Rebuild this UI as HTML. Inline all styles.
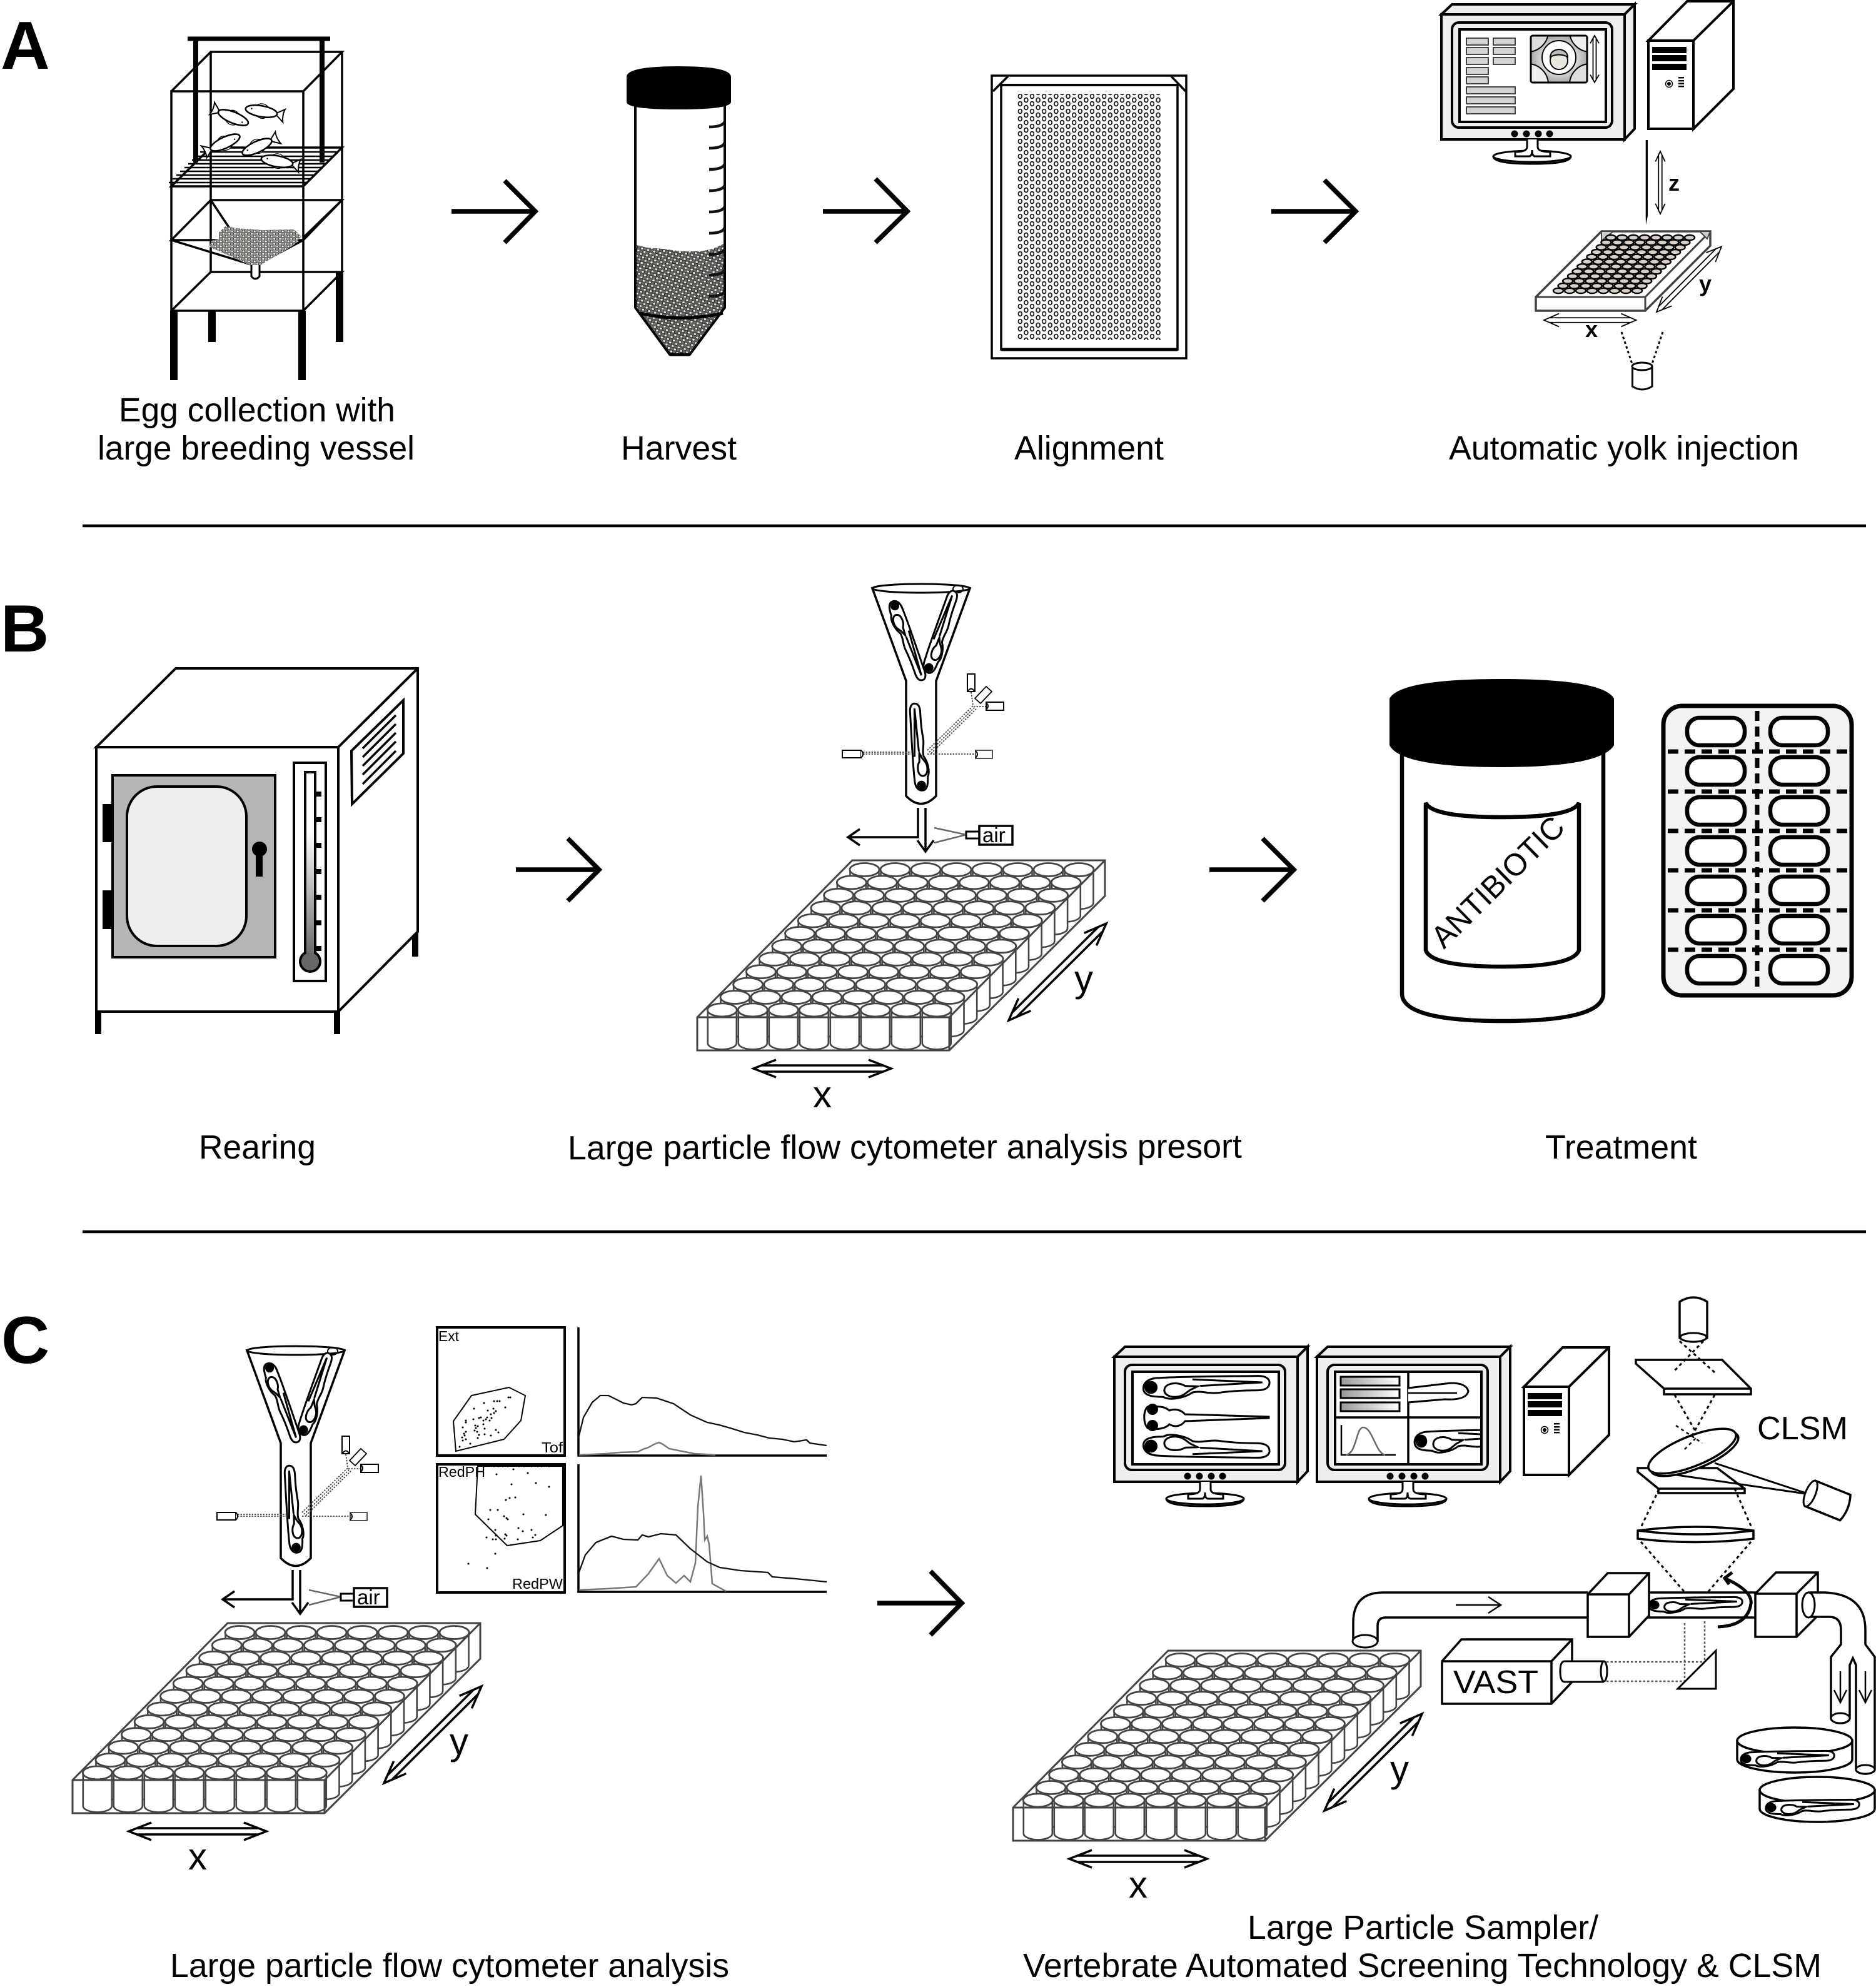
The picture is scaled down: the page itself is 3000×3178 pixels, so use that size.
<!DOCTYPE html>
<html><head><meta charset="utf-8"><title>Diagram</title>
<style>html,body{margin:0;padding:0;background:#fff}svg{display:block}text{font-family:"Liberation Sans",Arial,sans-serif;fill:#000}</style>
</head><body>
<svg xmlns="http://www.w3.org/2000/svg" width="3000" height="3178" viewBox="0 0 3000 3178">
<defs>
<pattern id="eggs" width="10" height="9" patternUnits="userSpaceOnUse" patternTransform="rotate(14)">
<rect width="10" height="9" fill="#6a6a6a"/>
<ellipse cx="2.5" cy="2.2" rx="2.5" ry="2.2" fill="#e9e2da" stroke="#111" stroke-width="1"/>
<ellipse cx="7.5" cy="6.7" rx="2.5" ry="2.2" fill="#e9e2da" stroke="#111" stroke-width="1"/>
</pattern>
<pattern id="eggs2" width="9" height="8" patternUnits="userSpaceOnUse">
<rect width="9" height="8" fill="#999"/>
<circle cx="2.2" cy="2" r="2.1" fill="#f2ebe4" stroke="#222" stroke-width=".9"/>
<circle cx="6.7" cy="6" r="2.1" fill="#f2ebe4" stroke="#222" stroke-width=".9"/>
</pattern>
<pattern id="align" x="1627.5" y="150" width="19.2" height="12" patternUnits="userSpaceOnUse">
<ellipse cx="3.8" cy="4" rx="2.9" ry="3.5" fill="#fff" stroke="#111" stroke-width="1.7"/>
<ellipse cx="13.4" cy="10" rx="2.9" ry="3.5" fill="#fff" stroke="#111" stroke-width="1.7"/>
<ellipse cx="13.4" cy="-2" rx="2.9" ry="3.5" fill="#fff" stroke="#111" stroke-width="1.7"/>
</pattern>
<linearGradient id="th" x1="0" y1="0" x2="0" y2="1"><stop offset=".3" stop-color="#fff"/><stop offset="1" stop-color="#555"/></linearGradient>
<linearGradient id="bar" x1="0" y1="0" x2="1" y2="0"><stop offset="0" stop-color="#999"/><stop offset="1" stop-color="#fff"/></linearGradient>
<radialGradient id="imgb"><stop offset=".3" stop-color="#fff"/><stop offset="1" stop-color="#aaa"/></radialGradient>
<clipPath id="imgc"><rect x="2448" y="57" width="90" height="75" rx="3"/></clipPath>
<clipPath id="eggc1"><path d="M350,372 L360,362 L380,365 L420,368 L470,367 L482,378 L470,392 L415,425 L402,425 L335,395 L338,385 L350,382Z"/></clipPath>
<clipPath id="eggc2"><path d="M1018,392 L1035,396 L1060,398 L1090,402 L1120,402 L1140,398 L1157,390 V492 L1103,565 H1071 L1018,492Z"/></clipPath>
<clipPath id="m2c"><rect x="2135" y="2194" width="234" height="148"/></clipPath>

<g id="fish" fill="#fff" stroke="#000" transform="scale(.8)">
<path d="M-12,-10 Q0,-20 12,-11 M-8,10 Q2,18 12,10" stroke-width="1.5"/>
<path d="M28,0 L46,-12 Q42,0 46,14Z" stroke-width="2.5"/>
<ellipse cx="0" cy="0" rx="32" ry="11" stroke-width="3.2"/>
<circle cx="-20" cy="-2" r="1.5" fill="#000" stroke="none"/>
</g>

<g id="larva" fill="#fff" stroke="#000" stroke-width="3">
<path vector-effect="non-scaling-stroke" d="M3,2 C3,-11 15,-19 36,-19 C80,-22 150,-22 230,-23 C246,-23 252,-16 252,-10 C252,0 245,6 225,6 C190,6 170,8 150,11 C130,13 118,6 100,10 C85,21 55,27 42,19 C25,19 3,18 3,2Z"/>
<circle cx="18" cy="0" r="13" fill="#000" stroke="none"/>
<path vector-effect="non-scaling-stroke" d="M45,2 C50,-11 75,-10 85,-3 C95,-2 100,-3 110,-2 L100,3 C90,6 85,19 65,19 C50,19 42,11 45,2Z"/>
<path vector-effect="non-scaling-stroke" fill="none" d="M100,-16 L238,-10 L115,-3"/>
</g>

<path id="darr" fill="none" stroke="#000" stroke-width="3.5" vector-effect="non-scaling-stroke" d="M36,-14 L0,0 L36,14 M184,-14 L220,0 L184,14 M14,-5 H206 M14,5 H206"/>
<path id="darrs" fill="none" stroke="#000" stroke-width="1.8" vector-effect="non-scaling-stroke" d="M36,-14 L0,0 L36,14 M184,-14 L220,0 L184,14 M14,-5 H206 M14,5 H206"/>

<g id="well">
<path d="M-23,0 V53 A23,10 0 0 0 23,53 V0Z" fill="#fff" stroke="#444" stroke-width="2.6"/>
<ellipse cx="0" cy="0" rx="23.5" ry="10.5" fill="#fff" stroke="#444" stroke-width="2.8"/>
</g>
<g id="wr"><use href="#well" x="0"/><use href="#well" x="49"/><use href="#well" x="98"/><use href="#well" x="147"/><use href="#well" x="196"/><use href="#well" x="245"/><use href="#well" x="294"/><use href="#well" x="343"/></g>
<g id="plate">
<use href="#wr" x="1382.5" y="1391"/><use href="#wr" x="1361.8" y="1411.4"/><use href="#wr" x="1341.1" y="1431.8"/><use href="#wr" x="1320.4" y="1452.2"/><use href="#wr" x="1299.7" y="1472.6"/><use href="#wr" x="1279" y="1493"/><use href="#wr" x="1258.3" y="1513.4"/><use href="#wr" x="1237.6" y="1533.8"/><use href="#wr" x="1216.9" y="1554.2"/><use href="#wr" x="1196.2" y="1574.6"/><use href="#wr" x="1175.5" y="1595"/><use href="#wr" x="1154.8" y="1615.4"/>
<path d="M1115,1627 L1363,1376 H1767 V1433 L1518,1680 H1115Z M1115,1627 H1518 V1680 M1518,1627 L1767,1376" fill="none" stroke="#444" stroke-width="3"/>
<use href="#darr" transform="translate(1205,1709)"/>
<use href="#darr" transform="translate(1613,1632) rotate(-44.8)"/>
</g>

<g id="fn">
<path d="M1395,941 L1449,1089 V1273 Q1473,1298 1497,1273 V1089 L1551,941Z" fill="#fff" stroke="#000" stroke-width="3.5"/>
<ellipse cx="1473" cy="941" rx="78" ry="7" fill="#fff" stroke="#000" stroke-width="3"/>
<use href="#larva" transform="translate(1428,960) rotate(71.7) scale(.54)"/>
<use href="#larva" transform="translate(1482,1077) rotate(-69.5) scale(.55)"/>
<ellipse cx="1532" cy="942" rx="8" ry="6" fill="none" stroke="#000" stroke-width="2"/>
<use href="#larva" transform="translate(1474,1266) rotate(-92.6) scale(.56)"/>
<path d="M1380,1203 H1457 M1380,1206 H1457 M1483,1206 H1560 M1483,1200 L1557,1128 M1486,1203 L1559,1131 M1489,1205 L1561,1134 M1553,1107 L1556,1128 M1557,1130 H1577" fill="none" stroke="#444" stroke-width="1.8" stroke-dasharray="2.5 2"/>
<g fill="#fff" stroke="#000" stroke-width="2">
<rect x="1347" y="1200" width="30" height="12"/><path d="M1377,1200 Q1383,1206 1377,1212" />
<rect x="1560" y="1200" width="27" height="13" stroke="#555"/><path d="M1560,1201 Q1566,1206 1560,1212" fill="none"/>
<rect x="1547" y="1078" width="12" height="28"/><path d="M1548,1105 Q1553,1098 1558,1105" fill="none"/>
<rect x="1577" y="1123" width="28" height="13"/><path d="M1577,1124 Q1583,1129 1577,1135" fill="none"/>
<path d="M1559,1117 L1577,1098 L1586,1106 L1568,1125Z" stroke-width="1.8"/>
</g>
<path d="M1468,1292 V1339 H1356 M1375,1326 L1356,1339 L1375,1352 M1480,1292 V1362 M1467,1344 L1480,1362 L1493,1344" fill="none" stroke="#000" stroke-width="3.5"/>
<path d="M1494,1324 L1545,1335 L1494,1348" fill="none" stroke="#666" stroke-width="2.5"/>
<rect x="1545" y="1330" width="21" height="11" fill="#fff" stroke="#000" stroke-width="3"/>
<rect x="1566" y="1321" width="53" height="30" fill="#fff" stroke="#000" stroke-width="3.5"/>
</g>

<g id="mon" stroke="#000" stroke-width="4" fill="#eee">
<path d="M2305,23 L2322,7 H2614 L2598,23Z"/>
<path d="M2598,23 L2614,7 V206 L2598,223Z"/>
<rect x="2305" y="23" width="293" height="200"/>
<rect x="2322" y="36" width="256" height="168" rx="11"/>
<rect x="2334" y="47" width="234" height="148" fill="#fff"/>
<g fill="#000" stroke="none"><circle cx="2422" cy="214" r="5.5"/><circle cx="2441" cy="214" r="5.5"/><circle cx="2460" cy="214" r="5.5"/><circle cx="2478" cy="214" r="5.5"/></g>
<path d="M2388,250 Q2388,262 2450,262 Q2512,262 2512,250" fill="#fff" stroke-width="3"/>
<ellipse cx="2450" cy="250" rx="62" ry="9" fill="#fff" stroke-width="3"/>
<path d="M2442,223 V235 Q2442,243 2423,243 V250 H2445 Q2450,250 2450,240 Q2450,250 2455,250 H2479 V243 Q2459,243 2459,235 V223" fill="#fff" stroke-width="3"/>
</g>

<g id="tower" stroke="#000" stroke-width="4" fill="#fff">
<path d="M2636,65 L2698,2 H2772 V142 L2708,206 V65Z"/>
<path d="M2708,65 L2772,2"/>
<rect x="2636" y="65" width="72" height="141"/>
<g fill="#000" stroke="none"><rect x="2642" y="75" width="55" height="10"/><rect x="2642" y="88" width="55" height="10"/><rect x="2642" y="102" width="55" height="10"/><circle cx="2669" cy="134" r="3"/><rect x="2684" y="123" width="9" height="2.4"/><rect x="2684" y="128" width="9" height="2.4"/><rect x="2684" y="132.500" width="9" height="2.4"/><rect x="2684" y="137" width="9" height="2.4"/></g>
<circle cx="2669" cy="134" r="5.500" fill="none" stroke-width="1.5"/>
</g>

<g id="p8"><ellipse cx="0" cy="0" rx="8" ry="4.2"/><ellipse cx="18" cy="0" rx="8" ry="4.2"/><ellipse cx="36" cy="0" rx="8" ry="4.2"/><ellipse cx="54" cy="0" rx="8" ry="4.2"/><ellipse cx="72" cy="0" rx="8" ry="4.2"/><ellipse cx="90" cy="0" rx="8" ry="4.2"/><ellipse cx="108" cy="0" rx="8" ry="4.2"/><ellipse cx="126" cy="0" rx="8" ry="4.2"/></g>

<g id="dish" stroke="#000" stroke-width="3.500" fill="#fff">
<path d="M-92,0 V30 A92,21 0 0 0 92,30 V0Z"/>
<ellipse cx="0" cy="0" rx="92" ry="21"/>
</g>
</defs>

<!-- Panel letters -->
<text x="1" y="110" font-size="109" font-weight="700">A</text>
<text x="1" y="1042" font-size="107" font-weight="700">B</text>
<text x="2" y="2180" font-size="107" font-weight="700">C</text>

<!-- rules -->
<path d="M132,841 H2984 M132,1970 H2984" stroke="#000" stroke-width="4.500"/>

<!-- arrows -->
<g fill="none" stroke="#000" stroke-width="7.500">
<path d="M722,338 H855 M807,289 L856,338 L807,388"/>
<path d="M1316,338 H1450 M1400,286 L1451,338 L1400,388"/>
<path d="M2033,338 H2167 M2118,288 L2168,338 L2118,388"/>
<path d="M825,1391 H958 M908,1341 L958,1391 L908,1441"/>
<path d="M1934,1391 H2068 M2019,1341 L2069,1391 L2019,1441"/>
<path d="M1403,2564 H1537 M1488,2513 L1538,2564 L1488,2615"/>
</g>

<!-- Breeding vessel -->
<g fill="none" stroke="#000">
<path d="M300,62 H528" stroke-width="7"/>
<path d="M313,62 V260 M515,62 V260" stroke-width="8"/>
<path d="M274,146 L337,83 H547 L485,146 H274 V497 H485 V146 M547,83 V435 M337,83 V435 H547 L485,497 M337,435 L274,497" stroke-width="3.500"/>
<path d="M274,298 L337,236 H547 L485,298Z M274,298 H485" stroke-width="3.500"/>
<path d="M270,292 H490 M276,286 H497 M282,280 H503 M288,274 H509 M295,268 H515 M301,262 H522 M307,256 H528 M313,250 H534 M320,243 H540" stroke-width="2.600"/>
<path d="M274,384 L337,320 H547 L485,384Z M274,384 L408,425 L485,384 M337,320 L367,365 M547,320 L485,380" stroke-width="3.500"/>
</g>
<rect x="330" y="360" width="156" height="70" fill="url(#eggs2)" clip-path="url(#eggc1)"/>
<path d="M402,424 V442 Q408,450 415,442 V424" fill="#fff" stroke="#000" stroke-width="3"/>
<g fill="#000"><rect x="272" y="497" width="12" height="111"/><rect x="477" y="497" width="12" height="111"/><rect x="333" y="497" width="12" height="50"/><rect x="537" y="435" width="12" height="112"/></g>
<use href="#fish" transform="translate(418,178) rotate(10)"/>
<use href="#fish" transform="translate(373,188) rotate(202)"/>
<use href="#fish" transform="translate(360,228) rotate(155)"/>
<use href="#fish" transform="translate(411,235) rotate(-25)"/>
<use href="#fish" transform="translate(443,258) rotate(10)"/>

<!-- Tube -->
<rect x="1018" y="388" width="140" height="180" fill="url(#eggs)" clip-path="url(#eggc2)"/>
<path d="M1016,165 V492 L1071,567 H1103 L1159,492 V165" fill="none" stroke="#000" stroke-width="4"/>
<path d="M1071,567 H1103" stroke="#000" stroke-width="5"/>
<path d="M1023,501 Q1090,516 1156,501" fill="none" stroke="#000" stroke-width="5"/>
<path d="M1002,123 Q1002,106 1085,106 Q1169,106 1169,123 V163 Q1169,175 1085,175 Q1002,175 1002,163Z" fill="#000"/>
<path d="M1159,194 Q1156,203 1134,203 M1159,228 Q1156,237 1134,237 M1159,262 Q1156,271 1134,271 M1159,296 Q1156,305 1134,305 M1159,330 Q1156,339 1134,339 M1159,364 Q1156,373 1134,373 M1159,398 Q1156,407 1134,407 M1159,431 Q1156,440 1134,440 M1159,465 Q1156,474 1134,474" fill="none" stroke="#111" stroke-width="4.500"/>

<!-- Alignment plate -->
<path d="M1586,121 H1897 V573 H1586Z M1601,136 H1883 V559 H1601Z M1612,122 L1588,146 M1873,122 L1896,146" fill="#fff" stroke="#000" stroke-width="3.500"/>
<path d="M1601,136 H1883" stroke="#000" stroke-width="4"/>
<path d="M1601,559 H1883" stroke="#000" stroke-width="5"/>
<rect x="1627.500" y="150" width="230" height="394" fill="url(#align)"/>

<!-- Injection station -->
<use href="#mon"/>
<use href="#tower"/>
<g fill="#d4d4d4" stroke="#333" stroke-width="1.800">
<rect x="2345" y="61" width="35" height="11"/><rect x="2345" y="76" width="35" height="11"/><rect x="2345" y="92" width="35" height="11"/><rect x="2345" y="108" width="35" height="11"/><rect x="2345" y="123" width="35" height="11"/>
<rect x="2388" y="61" width="35" height="11"/><rect x="2388" y="76" width="35" height="11"/><rect x="2388" y="92" width="35" height="11"/>
<rect x="2345" y="139" width="78" height="11"/><rect x="2345" y="155" width="78" height="11"/><rect x="2345" y="171" width="78" height="11"/>
</g>
<rect x="2448" y="57" width="90" height="75" rx="3" fill="url(#imgb)"/>
<g clip-path="url(#imgc)" fill="#fff" stroke="#000" stroke-width="2">
<circle cx="2443" cy="50" r="33" fill="#ddd"/><circle cx="2543" cy="50" r="33" fill="#eee"/><circle cx="2443" cy="135" r="33" fill="#eee"/><circle cx="2543" cy="135" r="33" fill="#ddd"/>
<circle cx="2493" cy="92" r="27"/>
</g>
<rect x="2448" y="57" width="90" height="75" rx="3" fill="none" stroke="#000" stroke-width="3"/>
<circle cx="2493" cy="97" r="14" fill="#ece6e0" stroke="#000" stroke-width="2"/>
<path d="M2479,91 Q2480,80 2493,79 Q2506,80 2507,91 Q2493,84 2479,91Z" fill="#bbb" stroke="#000" stroke-width="2"/>
<use href="#darrs" transform="translate(2550,57) rotate(90) scale(.34,.5)"/>
<path d="M2631.700,224 V345 L2632,360 L2635,345 V224Z" fill="#000"/>
<use href="#darrs" transform="translate(2655,242) rotate(90) scale(.455,.55)"/>
<text x="2668" y="305" font-size="36" font-weight="700">z</text>
<path d="M2456,475 L2561,370 H2735 V393 L2631,497 H2456Z" fill="#fff" stroke="#444" stroke-width="3.500"/>
<path d="M2456,475 H2631 V497 M2631,475 L2735,370" fill="none" stroke="#444" stroke-width="3"/>
<path d="M2561,370 L2580,370 L2561,385Z M2735,370 L2718,370 L2730,382Z" fill="#ccc" stroke="#444" stroke-width="2"/>
<g fill="#d8d0c8" stroke="#000" stroke-width="2.400">
<use href="#p8" x="2576" y="380"/><use href="#p8" x="2568.400" y="387.700"/><use href="#p8" x="2560.700" y="395.500"/><use href="#p8" x="2553.100" y="403.200"/><use href="#p8" x="2545.400" y="410.900"/><use href="#p8" x="2537.800" y="418.600"/><use href="#p8" x="2530.200" y="426.400"/><use href="#p8" x="2522.500" y="434.100"/><use href="#p8" x="2514.900" y="441.800"/><use href="#p8" x="2507.200" y="449.500"/><use href="#p8" x="2499.600" y="457.300"/><use href="#p8" x="2492" y="465"/>
</g>
<use href="#darrs" transform="translate(2469,512) scale(.67,.75)"/>
<use href="#darrs" transform="translate(2649,499) rotate(-45.200) scale(.67,.75)"/>
<text x="2535" y="539" font-size="36" font-weight="700">x</text>
<text x="2717" y="466" font-size="36" font-weight="700">y</text>
<path d="M2593,531 L2610,582 M2659,531 L2642,582" fill="none" stroke="#000" stroke-width="3" stroke-dasharray="4 4"/>
<path d="M2610.500,586 V618 Q2626,628 2642,618 V586" fill="#fff" stroke="#000" stroke-width="3"/>
<ellipse cx="2626" cy="586" rx="16" ry="6" fill="#fff" stroke="#000" stroke-width="3"/>

<!-- Oven -->
<g fill="#000"><rect x="152" y="1618" width="10" height="36"/><rect x="534" y="1618" width="10" height="36"/><rect x="659" y="1490" width="10" height="40"/></g>
<g stroke="#000" stroke-width="4" fill="#fff">
<path d="M154,1195 L281,1069 H668 V1490 L541,1618 V1195Z"/>
<rect x="154" y="1195" width="387" height="423"/>
<path d="M541,1195 L668,1069"/>
<path d="M562,1201 L645,1120 V1205 L563,1286Z"/>
<path d="M580,1197 L633,1144 M580,1211 L633,1158 M580,1225 L633,1172 M580,1239 L633,1186 M580,1254 L633,1201" stroke-width="3.500"/>
<rect x="180" y="1240" width="260" height="291" fill="#b5b5b5"/>
<rect x="203" y="1258" width="191" height="255" rx="48" fill="#eee"/>
<rect x="470" y="1220" width="51" height="349"/>
</g>
<g fill="#000"><rect x="164" y="1286" width="16" height="61"/><rect x="164" y="1424" width="16" height="62"/><circle cx="415" cy="1358" r="12"/><rect x="409" y="1358" width="11" height="44"/>
<rect x="504" y="1266" width="10" height="8"/><rect x="504" y="1307" width="10" height="8"/><rect x="504" y="1348" width="10" height="8"/><rect x="504" y="1390" width="10" height="8"/><rect x="504" y="1431" width="10" height="8"/><rect x="504" y="1472" width="10" height="8"/><rect x="504" y="1513" width="10" height="8"/></g>
<path d="M488,1235 H504 V1524 A16,16 0 1 1 488,1524Z" fill="url(#th)" stroke="#000" stroke-width="4"/>
<circle cx="496" cy="1538" r="14" fill="#666"/>

<!-- Flow + plate B -->
<use href="#fn"/>
<text x="1571" y="1347" font-size="33">air</text>
<use href="#plate"/>
<text x="1300" y="1771" font-size="60">x</text>
<text x="1718" y="1586" font-size="60">y</text>

<!-- Jar -->
<path d="M2242,1190 V1589 Q2242,1633 2403,1633 Q2564,1633 2564,1589 V1190" fill="#fff" stroke="#000" stroke-width="6.500"/>
<path d="M2222,1117 Q2240,1086 2400,1086 Q2563,1086 2581,1117 V1192 Q2560,1227 2400,1227 Q2240,1227 2222,1192Z" fill="#000"/>
<path d="M2280,1284 Q2290,1307 2402,1307 Q2515,1307 2525,1284 V1520 Q2515,1546 2402,1546 Q2290,1546 2280,1520Z" fill="#fff" stroke="#000" stroke-width="6.500"/>
<text x="0" y="0" font-size="50" transform="translate(2309,1519) rotate(-44.500)" textLength="275" lengthAdjust="spacingAndGlyphs">ANTIBIOTIC</text>

<!-- Blister -->
<rect x="2660" y="1129" width="301" height="463" rx="30" fill="#f3f3f3" stroke="#000" stroke-width="7"/>
<g fill="#fff" stroke="#000" stroke-width="6.500">
<rect x="2698" y="1148" width="92" height="44" rx="20"/><rect x="2831" y="1148" width="92" height="44" rx="20"/>
<rect x="2698" y="1211" width="92" height="44" rx="20"/><rect x="2831" y="1211" width="92" height="44" rx="20"/>
<rect x="2698" y="1275" width="92" height="44" rx="20"/><rect x="2831" y="1275" width="92" height="44" rx="20"/>
<rect x="2698" y="1339" width="92" height="44" rx="20"/><rect x="2831" y="1339" width="92" height="44" rx="20"/>
<rect x="2698" y="1402" width="92" height="44" rx="20"/><rect x="2831" y="1402" width="92" height="44" rx="20"/>
<rect x="2698" y="1465" width="92" height="44" rx="20"/><rect x="2831" y="1465" width="92" height="44" rx="20"/>
<rect x="2698" y="1529" width="92" height="44" rx="20"/><rect x="2831" y="1529" width="92" height="44" rx="20"/>
</g>
<path d="M2667,1202 H2954 M2667,1266 H2954 M2667,1329 H2954 M2667,1392 H2954 M2667,1456 H2954 M2667,1519 H2954" stroke="#000" stroke-width="7" stroke-dasharray="17 10" fill="none"/>
<path d="M2810,1137 V1585" stroke="#000" stroke-width="7" stroke-dasharray="16 9" fill="none"/>

<!-- Panel C left -->
<use href="#fn" transform="translate(-1000,1219)"/>
<text x="571" y="2566" font-size="33">air</text>
<use href="#plate" transform="translate(-999,1220)"/>
<text x="301" y="2990" font-size="60">x</text>
<text x="719" y="2806" font-size="60">y</text>

<!-- scatter boxes -->
<rect x="699" y="2123" width="204" height="205" fill="#fff" stroke="#000" stroke-width="4"/>
<rect x="699" y="2342" width="204" height="205" fill="#fff" stroke="#000" stroke-width="4"/>
<text x="701" y="2145" font-size="23" textLength="33" lengthAdjust="spacingAndGlyphs">Ext</text>
<text x="866" y="2323" font-size="23" textLength="34" lengthAdjust="spacingAndGlyphs">Tof</text>
<text x="701" y="2362" font-size="23" textLength="75" lengthAdjust="spacingAndGlyphs">RedPH</text>
<text x="819" y="2541" font-size="23" textLength="81" lengthAdjust="spacingAndGlyphs">RedPW</text>
<path d="M754,2232 L814,2219 L840,2232 L833,2272 L806,2302 L729,2321 L725,2273Z" fill="none" stroke="#000" stroke-width="2"/>
<path d="M764,2345 H900 V2440 L864,2464 L811,2472 L760,2422Z" fill="none" stroke="#000" stroke-width="2"/>
<path fill="none" stroke="#000" stroke-width="3" stroke-linecap="round" d="M813,2235h0M816,2235h0M790,2241h0M795,2241h0M799,2241h0M774,2244h0M758,2253h0M780,2256h0M789,2253h0M793,2257h0M808,2251h0M785,2262h0M790,2260h0M779,2267h0M777,2270h0M786,2268h0M745,2272h0M757,2270h0M766,2268h0M769,2267h0M773,2272h0M783,2272h0M745,2275h0M740,2283h0M760,2280h0M764,2281h0M761,2284h0M773,2278h0M775,2285h0M793,2287h0M797,2291h0M742,2293h0M745,2290h0M759,2288h0M763,2290h0M775,2294h0M785,2296h0M739,2299h0M743,2296h0M766,2295h0M764,2300h0M740,2304h0M752,2309h0M735,2314h0M745,2302h0"/>
<path fill="none" stroke="#000" stroke-width="3" stroke-linecap="round" d="M790,2345h0M797,2345h0M804,2345h0M812,2345h0M830,2345h0M838,2345h0M850,2345h0M860,2345h0M866,2345h0M878,2345h0M821,2350h0M794,2358h0M818,2374h0M857,2372h0M878,2378h0M844,2356h0M809,2399h0M815,2396h0M824,2395h0M784,2415h0M796,2415h0M806,2425h0M810,2428h0M812,2430h0M837,2422h0M873,2423h0M781,2430h0M792,2447h0M793,2456h0M808,2454h0M810,2456h0M829,2444h0M836,2449h0M850,2447h0M856,2455h0M778,2459h0M788,2462h0M793,2462h0M807,2461h0M828,2462h0M852,2459h0M792,2485h0M749,2501h0M779,2508h0"/>

<!-- graphs -->
<path d="M925,2123 V2328 H1322 M925,2342 V2546 H1322" fill="none" stroke="#000" stroke-width="3.500"/>
<path d="M925,2328 H1322 M925,2546 H1322" fill="none" stroke="#000" stroke-width="3"/>
<path d="M926,2327 L970,2325 L990,2323 L1020,2322 L1028,2318 L1037,2315 L1046,2310 L1054,2307 L1060,2310 L1070,2317 L1090,2321 L1111,2325 L1144,2327" fill="none" stroke="#777" stroke-width="2.500"/>
<path d="M925,2300 L933,2267 L947,2243 L960,2232 L973,2232 L997,2244 L1010,2247 L1017,2245 L1027,2235 L1050,2236 L1077,2245 L1104,2263 L1131,2275 L1150,2279 L1171,2285 L1190,2291 L1211,2295 L1230,2300 L1251,2302 L1270,2306 L1290,2303 L1295,2308 L1322,2312" fill="none" stroke="#111" stroke-width="2.300"/>
<path d="M926,2543 L970,2541 L1017,2538 L1037,2517 L1054,2493 L1067,2520 L1081,2532 L1094,2520 L1104,2530 L1112,2500 L1116,2410 L1121,2360 L1125,2420 L1127,2463 L1131,2457 L1134,2470 L1139,2533 L1161,2545" fill="none" stroke="#777" stroke-width="2.500"/>
<path d="M925,2517 L936,2487 L953,2467 L978,2457 L997,2462 L1020,2463 L1027,2455 L1037,2458 L1057,2453 L1081,2455 L1104,2477 L1131,2498 L1151,2507 L1184,2512 L1228,2515 L1235,2522 L1272,2525 L1322,2530" fill="none" stroke="#111" stroke-width="2.300"/>

<!-- Panel C right: monitors -->
<use href="#mon" transform="translate(-523,2147)"/>
<use href="#mon" transform="translate(-199,2147)"/>
<use href="#tower" transform="translate(-199,2153)"/>
<use href="#larva" transform="translate(1826,2219) scale(.81,.8)"/>
<use href="#larva" transform="translate(1826,2313) scale(.81,-.8)"/>
<path d="M1835,2250 C1860,2248 1865,2252 1870,2256 C1880,2252 1890,2256 1895,2262 L2029,2266 V2268 L1895,2273 C1890,2280 1880,2284 1870,2278 C1865,2284 1850,2288 1835,2284 C1828,2275 1828,2258 1835,2250Z" fill="#fff" stroke="#000" stroke-width="3"/>
<circle cx="1843" cy="2254" r="9"/><circle cx="1843" cy="2280" r="9"/>
<path d="M2252,2194 V2342 M2135,2267 H2369" stroke="#000" stroke-width="3.500"/>
<g fill="url(#bar)" stroke="#000" stroke-width="3"><rect x="2144" y="2202" width="94" height="14"/><rect x="2144" y="2222" width="94" height="14"/><rect x="2144" y="2243" width="94" height="14"/></g>
<path d="M2252,2220 L2320,2212 Q2345,2212 2348,2225 Q2345,2240 2310,2238 L2252,2243" fill="#fff" stroke="#000" stroke-width="3"/>
<path d="M2252,2228 H2330" stroke="#000" stroke-width="2.500"/>
<path d="M2145,2279 V2327 H2232" fill="none" stroke="#000" stroke-width="2.500"/>
<path d="M2152,2327 C2170,2325 2168,2283 2180,2283 C2195,2283 2200,2325 2215,2327" fill="none" stroke="#666" stroke-width="2.500"/>
<g clip-path="url(#m2c)"><use href="#larva" transform="translate(2260,2305) scale(.72,.8)"/></g>
<rect x="2135" y="2194" width="234" height="148" fill="none" stroke="#000" stroke-width="4"/>

<!-- CLSM optics -->
<g fill="none" stroke="#000" stroke-width="3" stroke-dasharray="5 5">
<path d="M2686,2145 L2742,2195 M2724,2145 L2675,2195"/>
<path d="M2678,2231 L2722,2308 M2742,2231 L2694,2318"/>
<path d="M2653,2382 L2623,2445 M2774,2381 L2802,2445"/>
<path d="M2624,2466 L2698,2551 M2800,2466 L2722,2557"/>
</g>
<path d="M2686,2082 Q2708,2068 2730,2082 V2140 Q2708,2152 2686,2140Z" fill="#fff" stroke="#000" stroke-width="3.500"/>
<ellipse cx="2708" cy="2139" rx="21" ry="7" fill="#fff" stroke="#000" stroke-width="3"/>
<path d="M2616,2175 H2754 L2800,2221 V2230 H2661 V2221 L2616,2181Z M2661,2221 H2800" fill="#fff" fill-opacity="0" stroke="#000" stroke-width="3.500"/>
<path d="M2619,2348 H2746 L2790,2381 V2388 H2652 V2381 L2619,2354Z M2652,2381 H2790" fill="none" stroke="#000" stroke-width="3.500"/>
<path d="M2667,2357 L2894,2390 M2742,2340 L2894,2390" fill="none" stroke="#000" stroke-width="3"/>
<g transform="translate(2706,2321) rotate(-22)"><ellipse cx="2" cy="5" rx="75" ry="24" fill="#fff" stroke="#000" stroke-width="3.500"/><ellipse cx="0" cy="0" rx="75" ry="24" fill="#fff" stroke="#000" stroke-width="3.500"/></g>
<path d="M2680,2280 L2722,2308 M2694,2318 L2712,2300" fill="none" stroke="#000" stroke-width="2.500" stroke-dasharray="5 5"/>
<g transform="translate(2923,2400) rotate(22)"><path d="M-30,-22 H30 Q38,0 30,22 H-30Z" fill="#fff" stroke="#000" stroke-width="3.500"/><ellipse cx="-30" cy="0" rx="8" ry="22" fill="#fff" stroke="#000" stroke-width="3"/></g>
<path d="M2619,2448 Q2712,2436 2804,2448 V2461 Q2712,2472 2619,2461Z M2619,2448 Q2712,2460 2804,2448" fill="#fff" stroke="#000" stroke-width="3.500"/>
<text x="2810" y="2302" font-size="52" textLength="145" lengthAdjust="spacingAndGlyphs">CLSM</text>

<!-- Tubing -->
<path d="M2539,2547 H2212 Q2164,2547 2164,2595 V2625 A20,10 0 0 0 2203,2625 V2600 Q2203,2587 2216,2587 H2539" fill="#fff" stroke="#000" stroke-width="3.500"/>
<ellipse cx="2183" cy="2625" rx="20" ry="10" fill="#fff" stroke="#000" stroke-width="3"/>
<path d="M2328,2567 H2400 M2380,2554 L2400,2567 L2380,2580" fill="none" stroke="#000" stroke-width="2.500"/>
<rect x="2605" y="2547" width="205" height="40" fill="#fff" stroke="#000" stroke-width="3.500"/>
<ellipse cx="2623" cy="2567" rx="10" ry="20" fill="#fff" stroke="#000" stroke-width="3"/>
<use href="#larva" transform="translate(2635,2567) scale(.6,.55)"/>
<path d="M2539,2550 L2571,2516 H2637 V2584 L2605,2618 H2539Z M2539,2550 H2605 V2618 M2605,2550 L2637,2516" fill="#fff" stroke="#000" stroke-width="3.500"/>
<path d="M2807,2549 L2840,2515 H2907 V2584 L2873,2618 H2807Z M2807,2549 H2873 V2618 M2873,2549 L2907,2515" fill="#fff" stroke="#000" stroke-width="3.500"/>
<path d="M2892,2547 H2918 Q2983,2550 2983,2607 V2630 L2998,2650 V2830 A15,7 0 0 1 2968,2830 V2663 L2963,2652 L2958,2663 V2748 A15,8 0 0 1 2928,2748 V2650 L2944,2630 V2607 Q2944,2586 2925,2586 H2892" fill="#fff" stroke="#000" stroke-width="3.500"/>
<ellipse cx="2892" cy="2567" rx="10" ry="20" fill="#fff" stroke="#000" stroke-width="3"/>
<ellipse cx="2943" cy="2748" rx="15" ry="8" fill="#fff" stroke="#000" stroke-width="3"/>
<ellipse cx="2983" cy="2830" rx="15" ry="7" fill="#fff" stroke="#000" stroke-width="3"/>
<path d="M2943,2673 V2723 M2933,2703 L2943,2723 L2953,2703 M2983,2673 V2723 M2973,2703 L2983,2723 L2993,2703" fill="none" stroke="#000" stroke-width="2.500"/>
<path d="M2760,2525 Q2803,2545 2800,2565 Q2795,2600 2747,2602" fill="none" stroke="#000" stroke-width="5"/>
<path d="M2770,2515 L2758,2524 L2765,2534" fill="none" stroke="#000" stroke-width="5"/>

<!-- VAST -->
<path d="M2569,2658 H2726 M2569,2689 H2694 M2694,2596 V2690 M2726,2593 V2657" fill="none" stroke="#555" stroke-width="2.500" stroke-dasharray="3.500 3"/>
<path d="M2744,2640 V2701 H2683Z" fill="#fff" stroke="#000" stroke-width="3"/>
<path d="M2306,2657 L2337,2622 H2514 V2690 L2481,2725 H2306Z M2306,2657 H2481 V2725 M2481,2657 L2514,2622" fill="#fff" stroke="#000" stroke-width="3.500"/>
<text x="2324" y="2708" font-size="52" textLength="136" lengthAdjust="spacingAndGlyphs">VAST</text>
<path d="M2565,2657 H2502 Q2495,2657 2495,2673 Q2495,2690 2502,2690 H2565" fill="#fff" stroke="#000" stroke-width="3"/>
<ellipse cx="2565" cy="2673" rx="5" ry="16" fill="#fff" stroke="#000" stroke-width="3"/>

<!-- Dishes -->
<use href="#dish" x="2870" y="2784"/>
<use href="#larva" transform="translate(2782,2813) scale(.6,.55)"/>
<use href="#dish" x="2906" y="2863"/>
<use href="#larva" transform="translate(2822,2891) scale(.6,.55)"/>

<!-- Plate C right -->
<use href="#plate" transform="translate(505,1264)"/>
<text x="1805" y="3035" font-size="60">x</text>
<text x="2223" y="2850" font-size="60">y</text>

<!-- Captions -->
<g font-size="54">
<text x="190" y="674" textLength="442" lengthAdjust="spacingAndGlyphs">Egg collection with</text>
<text x="156" y="735" textLength="507" lengthAdjust="spacingAndGlyphs">large breeding vessel</text>
<text x="993" y="735" textLength="185" lengthAdjust="spacingAndGlyphs">Harvest</text>
<text x="1622" y="735" textLength="239" lengthAdjust="spacingAndGlyphs">Alignment</text>
<text x="2317" y="735" textLength="560" lengthAdjust="spacingAndGlyphs">Automatic yolk injection</text>
<text x="318" y="1853" textLength="187" lengthAdjust="spacingAndGlyphs">Rearing</text>
<text x="908" y="1853" textLength="1078" lengthAdjust="spacingAndGlyphs" transform="rotate(-.15 1447 1851)">Large particle flow cytometer analysis presort</text>
<text x="2471" y="1853" textLength="243" lengthAdjust="spacingAndGlyphs">Treatment</text>
<text x="272" y="3162" textLength="894" lengthAdjust="spacingAndGlyphs">Large particle flow cytometer analysis</text>
<text x="1995" y="3101" textLength="561" lengthAdjust="spacingAndGlyphs">Large Particle Sampler/</text>
<text x="1636" y="3162" textLength="1277" lengthAdjust="spacingAndGlyphs">Vertebrate Automated Screening Technology &amp; CLSM</text>
</g>
</svg>
</body></html>
